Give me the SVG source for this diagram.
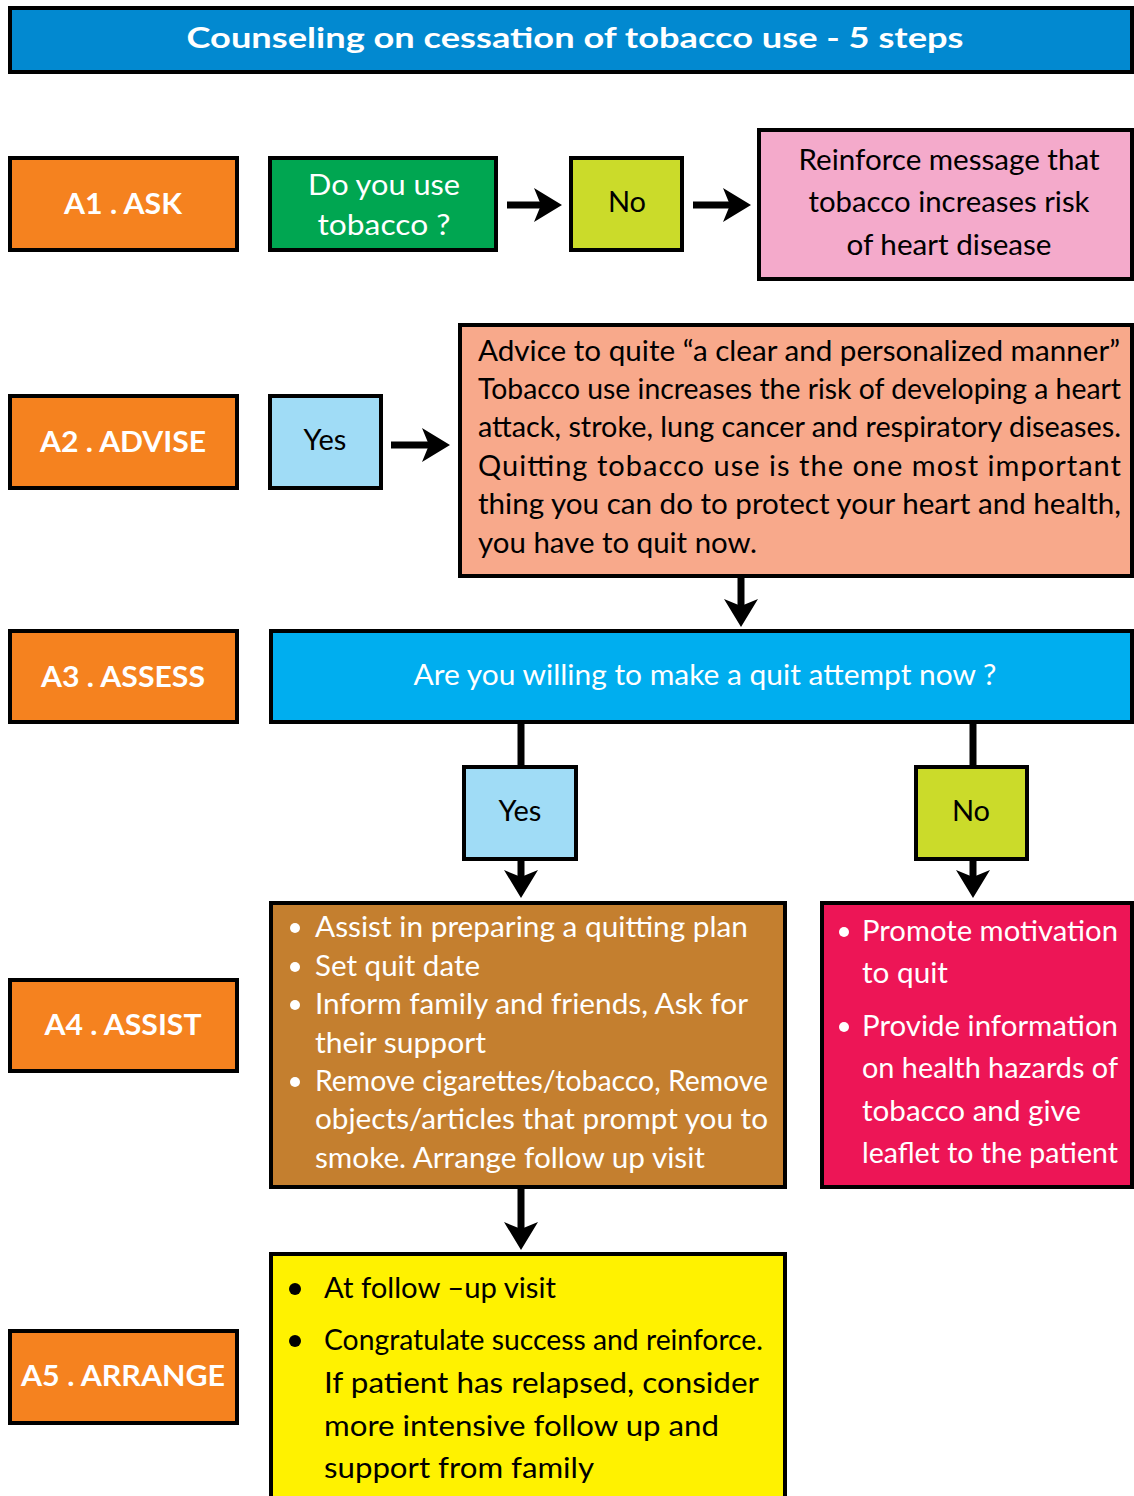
<svg xmlns="http://www.w3.org/2000/svg" width="1134" height="1496" viewBox="0 0 1134 1496">
<defs>
<marker id="ah" markerUnits="userSpaceOnUse" markerWidth="30" markerHeight="36" refX="13" refY="17" orient="auto">
<path d="M0,0 L28,17 L0,34 L7,17 z" fill="#000"/>
</marker>
<style>
.box{stroke:#000;stroke-width:4}
.t{font-family:Lato,"Open Sans","Liberation Sans",sans-serif;font-size:29px}
.lbl{font-family:Lato,"Open Sans","Liberation Sans",sans-serif;font-size:29px;font-weight:bold;fill:#fff;text-anchor:middle}
.w{fill:#fff}
.k{fill:#000}
.c{text-anchor:middle}
.conn{stroke:#000;stroke-width:7;fill:none}
</style>
</defs>
<rect width="1134" height="1496" fill="#fff"/>

<g id="title">
<rect class="box" x="10" y="8" width="1122" height="64" fill="#0289D0"/>
<text class="lbl" x="575" y="48" font-size="32" textLength="777" lengthAdjust="spacingAndGlyphs">Counseling  on  cessation  of  tobacco  use - 5 steps</text>
</g>

<g id="a1">
<rect class="box" x="10" y="158" width="227" height="92" fill="#F5821F"/>
<text class="lbl" x="123" y="214" textLength="118" lengthAdjust="spacingAndGlyphs">A1 . ASK</text>
</g>
<g id="q1">
<rect class="box" x="270" y="158" width="226" height="92" fill="#00A651"/>
<text class="t w c" x="384" y="195" textLength="152" lengthAdjust="spacingAndGlyphs">Do you use</text>
<text class="t w c" x="384" y="235" textLength="133" lengthAdjust="spacingAndGlyphs">tobacco ?</text>
</g>
<g id="no1">
<rect class="box" x="571" y="158" width="111" height="92" fill="#CBDB2A"/>
<text class="t k c" x="627" y="212">No</text>
</g>
<g id="reinforce">
<rect class="box" x="759" y="130" width="373" height="149" fill="#F4AACB"/>
<text class="t k c" x="949" y="170" textLength="301" lengthAdjust="spacingAndGlyphs">Reinforce message that</text>
<text class="t k c" x="949" y="212" textLength="281" lengthAdjust="spacingAndGlyphs">tobacco increases risk</text>
<text class="t k c" x="949" y="255" textLength="205" lengthAdjust="spacingAndGlyphs">of heart disease</text>
</g>

<g id="a2">
<rect class="box" x="10" y="396" width="227" height="92" fill="#F5821F"/>
<text class="lbl" x="123" y="452" textLength="166" lengthAdjust="spacingAndGlyphs">A2 . ADVISE</text>
</g>
<g id="yes1">
<rect class="box" x="270" y="396" width="111" height="92" fill="#A0DCF6"/>
<text class="t k c" x="325" y="450">Yes</text>
</g>
<g id="advice">
<rect class="box" x="460" y="325" width="672" height="251" fill="#F8A98B"/>
<text class="t k" x="478" y="361" textLength="642" lengthAdjust="spacingAndGlyphs">Advice to quite “a clear and personalized manner”</text>
<text class="t k" x="478" y="399" textLength="643" lengthAdjust="spacingAndGlyphs">Tobacco use increases the risk of developing a heart</text>
<text class="t k" x="478" y="437" textLength="643" lengthAdjust="spacingAndGlyphs">attack, stroke, lung cancer and respiratory diseases.</text>
<text class="t k" x="478" y="476" textLength="643" lengthAdjust="spacing">Quitting tobacco use is the one most important</text>
<text class="t k" x="478" y="514" textLength="643" lengthAdjust="spacingAndGlyphs">thing you can do to protect your heart and health,</text>
<text class="t k" x="478" y="553" textLength="279" lengthAdjust="spacingAndGlyphs">you have to quit now.</text>
</g>

<g id="a3">
<rect class="box" x="10" y="631" width="227" height="91" fill="#F5821F"/>
<text class="lbl" x="123" y="687" textLength="164" lengthAdjust="spacingAndGlyphs">A3 . ASSESS</text>
</g>
<g id="assess">
<rect class="box" x="271" y="631" width="861" height="91" fill="#00AEEF"/>
<text class="t w c" x="705" y="685" textLength="583" lengthAdjust="spacingAndGlyphs">Are you willing to make a quit attempt now ?</text>
</g>
<g id="yes2">
<rect class="box" x="464" y="767" width="112" height="92" fill="#A0DCF6"/>
<text class="t k c" x="520" y="821">Yes</text>
</g>
<g id="no2">
<rect class="box" x="916" y="767" width="111" height="92" fill="#CBDB2A"/>
<text class="t k c" x="971" y="821">No</text>
</g>

<g id="a4">
<rect class="box" x="10" y="980" width="227" height="91" fill="#F5821F"/>
<text class="lbl" x="123" y="1035" textLength="157" lengthAdjust="spacingAndGlyphs">A4 . ASSIST</text>
</g>
<g id="assist">
<rect class="box" x="271" y="903" width="514" height="284" fill="#C47F2F"/>
<circle cx="295" cy="928" r="5" fill="#fff"/>
<circle cx="295" cy="967" r="5" fill="#fff"/>
<circle cx="295" cy="1005" r="5" fill="#fff"/>
<circle cx="295" cy="1082" r="5" fill="#fff"/>
<text class="t w" x="315" y="937" textLength="433" lengthAdjust="spacingAndGlyphs">Assist in preparing a quitting plan</text>
<text class="t w" x="315" y="976" textLength="165" lengthAdjust="spacingAndGlyphs">Set quit date</text>
<text class="t w" x="315" y="1014" textLength="433" lengthAdjust="spacingAndGlyphs">Inform family and friends, Ask for</text>
<text class="t w" x="315" y="1053" textLength="171" lengthAdjust="spacingAndGlyphs">their support</text>
<text class="t w" x="315" y="1091" textLength="453" lengthAdjust="spacingAndGlyphs">Remove cigarettes/tobacco, Remove</text>
<text class="t w" x="315" y="1129" textLength="453" lengthAdjust="spacingAndGlyphs">objects/articles that prompt you to</text>
<text class="t w" x="315" y="1168" textLength="390" lengthAdjust="spacingAndGlyphs">smoke. Arrange follow up visit</text>
</g>
<g id="motivate">
<rect class="box" x="822" y="903" width="310" height="284" fill="#ED1556"/>
<circle cx="844" cy="932" r="5" fill="#fff"/>
<circle cx="844" cy="1027" r="5" fill="#fff"/>
<text class="t w" x="862" y="941" textLength="256" lengthAdjust="spacingAndGlyphs">Promote motivation</text>
<text class="t w" x="862" y="983" textLength="86" lengthAdjust="spacingAndGlyphs">to quit</text>
<text class="t w" x="862" y="1036" textLength="256" lengthAdjust="spacingAndGlyphs">Provide information</text>
<text class="t w" x="862" y="1078" textLength="256" lengthAdjust="spacingAndGlyphs">on health hazards of</text>
<text class="t w" x="862" y="1121" textLength="219" lengthAdjust="spacingAndGlyphs">tobacco and give</text>
<text class="t w" x="862" y="1163" textLength="256" lengthAdjust="spacingAndGlyphs">leaflet to the patient</text>
</g>

<g id="a5">
<rect class="box" x="10" y="1331" width="227" height="92" fill="#F5821F"/>
<text class="lbl" x="123" y="1386" textLength="204" lengthAdjust="spacingAndGlyphs">A5 . ARRANGE</text>
</g>
<g id="arrange">
<rect class="box" x="271" y="1254" width="514" height="250" fill="#FFF200"/>
<circle cx="295" cy="1289" r="6" fill="#000"/>
<circle cx="295" cy="1341" r="6" fill="#000"/>
<text class="t k" x="324" y="1298" textLength="232" lengthAdjust="spacingAndGlyphs">At follow –up visit</text>
<text class="t k" x="324" y="1350" textLength="439" lengthAdjust="spacingAndGlyphs">Congratulate success and reinforce.</text>
<text class="t k" x="324" y="1393" textLength="435" lengthAdjust="spacingAndGlyphs">If patient has relapsed, consider</text>
<text class="t k" x="324" y="1436" textLength="395" lengthAdjust="spacingAndGlyphs">more intensive follow up and</text>
<text class="t k" x="324" y="1478" textLength="270" lengthAdjust="spacingAndGlyphs">support from family</text>
</g>

<g id="connectors">
<line class="conn" x1="507" y1="205" x2="547" y2="205" marker-end="url(#ah)"/>
<line class="conn" x1="693" y1="205" x2="736" y2="205" marker-end="url(#ah)"/>
<line class="conn" x1="391" y1="445" x2="435" y2="445" marker-end="url(#ah)"/>
<line class="conn" x1="741" y1="576" x2="741" y2="612" marker-end="url(#ah)"/>
<line class="conn" x1="521" y1="722" x2="521" y2="767"/>
<line class="conn" x1="973" y1="722" x2="973" y2="767"/>
<line class="conn" x1="521" y1="859" x2="521" y2="883" marker-end="url(#ah)"/>
<line class="conn" x1="973" y1="859" x2="973" y2="883" marker-end="url(#ah)"/>
<line class="conn" x1="521" y1="1187" x2="521" y2="1235" marker-end="url(#ah)"/>
</g>
</svg>
